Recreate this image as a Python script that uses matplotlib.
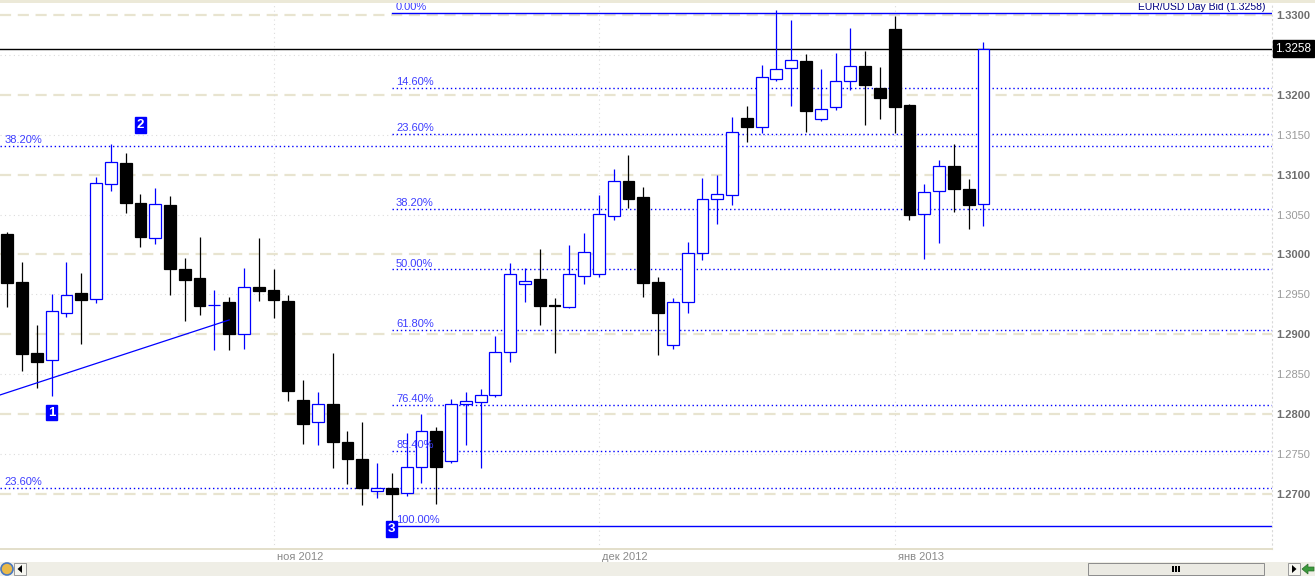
import numpy as np
import matplotlib
matplotlib.use('Agg')
import matplotlib.pyplot as plt
import matplotlib.transforms as mtransforms
from matplotlib.patches import Rectangle, Polygon, Ellipse

plt.rcParams['font.family'] = ['Liberation Sans', 'DejaVu Sans']

# EUR/USD daily bid candles, 8 Oct 2012 .. 10 Jan 2013 (one per trading day)
opens = [1.3026, 1.2966, 1.2877, 1.2868, 1.2927, 1.2952, 1.2944, 1.3088, 1.3115, 1.3065,
         1.3021, 1.3062, 1.2982, 1.2971, 1.2937, 1.2941, 1.2900, 1.2959, 1.2956, 1.2942,
         1.2818, 1.2790, 1.2813, 1.2765, 1.2744, 1.2704, 1.2708, 1.2701, 1.2734, 1.2779,
         1.2741, 1.2813, 1.2815, 1.2824, 1.2878, 1.2963, 1.2969, 1.2937, 1.2934, 1.2973,
         1.2976, 1.3048, 1.3092, 1.3072, 1.2966, 1.2887, 1.2941, 1.3002, 1.3070, 1.3075,
         1.3171, 1.3160, 1.3220, 1.3234, 1.3242, 1.3170, 1.3185, 1.3217, 1.3236, 1.3209,
         1.3282, 1.3187, 1.3051, 1.3080, 1.3111, 1.3082, 1.3063]
highs = [1.3028, 1.2991, 1.2912, 1.2951, 1.2991, 1.2977, 1.3097, 1.3138, 1.3127, 1.3076,
         1.3083, 1.3073, 1.2996, 1.3022, 1.2956, 1.2947, 1.2983, 1.3021, 1.2982, 1.2949,
         1.2843, 1.2828, 1.2877, 1.2779, 1.2790, 1.2739, 1.2726, 1.2776, 1.2800, 1.2784,
         1.2819, 1.2828, 1.2832, 1.2898, 1.2989, 1.2983, 1.3007, 1.2946, 1.3012, 1.3027,
         1.3075, 1.3107, 1.3125, 1.3085, 1.2972, 1.2946, 1.3016, 1.3096, 1.3100, 1.3172,
         1.3186, 1.3237, 1.3306, 1.3294, 1.3251, 1.3232, 1.3252, 1.3284, 1.3255, 1.3235,
         1.3299, 1.3189, 1.3088, 1.3118, 1.3138, 1.3095, 1.3266]
lows = [1.2934, 1.2854, 1.2833, 1.2823, 1.2922, 1.2888, 1.2939, 1.3080, 1.3052, 1.3009,
        1.3013, 1.2949, 1.2917, 1.2924, 1.2880, 1.2880, 1.2882, 1.2942, 1.2920, 1.2817,
        1.2763, 1.2761, 1.2733, 1.2712, 1.2686, 1.2695, 1.2660, 1.2697, 1.2714, 1.2687,
        1.2739, 1.2761, 1.2733, 1.2822, 1.2865, 1.2941, 1.2912, 1.2877, 1.2933, 1.2963,
        1.2972, 1.3043, 1.3058, 1.2947, 1.2874, 1.2882, 1.2927, 1.2993, 1.3038, 1.3062,
        1.3141, 1.3152, 1.3217, 1.3186, 1.3153, 1.3167, 1.3181, 1.3206, 1.3162, 1.3170,
        1.3152, 1.3043, 1.2994, 1.3014, 1.3053, 1.3032, 1.3036]
closes = [1.2964, 1.2875, 1.2865, 1.2929, 1.2949, 1.2943, 1.3090, 1.3116, 1.3065, 1.3022,
          1.3063, 1.2982, 1.2968, 1.2935, 1.2937, 1.2900, 1.2959, 1.2954, 1.2943, 1.2829,
          1.2788, 1.2813, 1.2765, 1.2744, 1.2708, 1.2708, 1.2700, 1.2734, 1.2779, 1.2734,
          1.2813, 1.2817, 1.2824, 1.2878, 1.2976, 1.2967, 1.2935, 1.2935, 1.2976, 1.3003,
          1.3051, 1.3092, 1.3070, 1.2964, 1.2927, 1.2941, 1.3002, 1.3070, 1.3076, 1.3153,
          1.3160, 1.3222, 1.3232, 1.3244, 1.3180, 1.3182, 1.3217, 1.3236, 1.3212, 1.3196,
          1.3185, 1.3049, 1.3078, 1.3111, 1.3082, 1.3062, 1.3258]

month_starts = [18, 40, 60]
month_labels = ['ноя 2012', 'дек 2012', 'янв 2013']

last_price = 1.3258
title = 'EUR/USD Day Bid (1.3258)'

# fibonacci retracement from point 3 (low) up to the december top
fib_high = 1.3303
fib_low = 1.2660
fib_start = 26
fib_levels = [0.0, 14.6, 23.6, 38.2, 50.0, 61.8, 76.4, 85.4, 100.0]

# older fibonacci study, only two of its levels fall inside the window
fib2_prices = [1.3136, 1.2708]
fib2_labels = ['38.20%', '23.60%']

trend_x = [-0.5, 15]
trend_y = [1.2824, 1.2918]

pivot_idx = [3, 9, 26]
pivot_price = [1.2802, 1.3162, 1.2656]
pivot_text = ['1', '2', '3']

BLUE = '#0000ff'
LBL = '#3d3dff'
W, H = 1315, 576

fig = plt.figure(figsize=(W / 100, H / 100), dpi=100)
fig.patch.set_facecolor('white')
ax = fig.add_axes([0, 27 / H, 1272 / W, 546 / H])
ax.set_xlim(-0.494, 85.51)
ax.set_ylim(1.26311, 1.33150)

# grid
for p in np.arange(1.27, 1.3301, 0.01):
    ax.axhline(p, color='#e8e4d0', lw=1.6, ls=(0, (5, 3)), zorder=1)
for p in np.arange(1.275, 1.3301, 0.01):
    ax.axhline(p, color='#dcdcdc', lw=0.8, ls=(0, (1, 3)), zorder=1)
for m in month_starts:
    ax.axvline(m, color='#dcdcdc', lw=0.8, ls=(0, (1, 3)), zorder=1)

for s in ['left', 'top']:
    ax.spines[s].set_visible(False)
ax.spines['bottom'].set_color('#e3dfca')
ax.spines['bottom'].set_linewidth(1.4)
ax.spines['right'].set_color('#d8d8d8')
ax.spines['right'].set_linestyle((0, (1, 3)))

# fib levels
xlo, xhi = ax.get_xlim()
fstart = (fib_start - xlo) / (xhi - xlo)
rng = fib_high - fib_low
for lv in fib_levels:
    price = fib_high - lv / 100 * rng
    if lv in (0.0, 100.0):
        ax.axhline(price, xmin=fstart, color=BLUE, lw=1.0, zorder=2)
    else:
        ax.axhline(price, xmin=fstart, color=BLUE, lw=1.0, ls=(0, (1, 2)), zorder=2)
    ax.annotate('%.2f%%' % lv, xy=(fib_start, price), xytext=(3, 0.5),
                textcoords='offset points', va='bottom', ha='left',
                color=LBL, fontsize=8, zorder=6)

for p, lab in zip(fib2_prices, fib2_labels):
    ax.axhline(p, color=BLUE, lw=1.0, ls=(0, (1, 2)), zorder=2)
    ax.annotate(lab, xy=(0, p), xycoords=('axes fraction', 'data'), xytext=(3, 0.5),
                textcoords='offset points', va='bottom', ha='left',
                color=LBL, fontsize=8, zorder=6)

# last price line
ax.axhline(last_price, color='black', lw=1.0, zorder=2)

# candles
o = np.array(opens)
h = np.array(highs)
l = np.array(lows)
c = np.array(closes)
x = np.arange(len(o))
up = c >= o
ax.vlines(x[up], l[up], h[up], colors=BLUE, lw=0.9, zorder=3)
ax.vlines(x[~up], l[~up], h[~up], colors='black', lw=0.9, zorder=3)
body_lo = np.minimum(o, c)
body_h = np.maximum(np.abs(c - o), 0.00003)
ax.bar(x[up], body_h[up], 0.8, bottom=body_lo[up], facecolor='white',
       edgecolor=BLUE, lw=0.9, zorder=4)
ax.bar(x[~up], body_h[~up], 0.8, bottom=body_lo[~up], facecolor='black',
       edgecolor='black', lw=0.9, zorder=4)

# trend line
ax.plot(trend_x, trend_y, color=BLUE, lw=0.9, zorder=5)

# pivot markers
for i, p, t in zip(pivot_idx, pivot_price, pivot_text):
    ax.text(i, p, t, ha='center', va='center', color='white', fontsize=9.5,
            fontweight='bold', zorder=7,
            bbox=dict(boxstyle='square,pad=0.14', fc=BLUE, ec=BLUE))

# price axis on the right (1.3250 sits under the last-price box)
ax.yaxis.tick_right()
ticks = np.arange(1.27, 1.3301, 0.005)
ax.set_yticks(ticks)
ax.set_yticklabels(['' if abs(t - 1.325) < 1e-6 else '%.4f' % t for t in ticks])
ax.tick_params(axis='y', length=0, pad=3, labelsize=8)
for t, lab in zip(ticks, ax.get_yticklabels()):
    if abs(round(t * 100) - t * 100) < 1e-6:
        lab.set_color('#6e6e6e')
        lab.set_fontweight('bold')
    else:
        lab.set_color('#9a9a9a')
ax.set_xticks([])

bl = mtransforms.blended_transform_factory(ax.transAxes, ax.transData)
ax.annotate('1.3258', xy=(1.0, last_price), xycoords=bl, xytext=(2.5, 0),
            textcoords='offset points', ha='left', va='center',
            color='white', fontsize=8.5, zorder=8, annotation_clip=False,
            bbox=dict(boxstyle='square,pad=0.25', fc='black', ec='black'))

ax.text(1 - 7 / 1272, 1 - 4 / 546, title, transform=ax.transAxes, ha='right',
        va='center', color='#000080', fontsize=7.5, zorder=8)

for m, lab in zip(month_starts, month_labels):
    ax.annotate(lab, xy=(m, 0), xycoords=('data', 'axes fraction'),
                xytext=(2.2, -6), textcoords='offset points', ha='left', va='center',
                color='#8a8a8a', fontsize=8, annotation_clip=False)


# window chrome (pixel coordinates from the top left)
def px_rect(x0, y0, x1, y1, **kw):
    fig.add_artist(Rectangle((x0 / W, 1 - y1 / H), (x1 - x0) / W, (y1 - y0) / H,
                             transform=fig.transFigure, **kw))


def px_poly(pts, **kw):
    fig.add_artist(Polygon([(a / W, 1 - b / H) for a, b in pts],
                           transform=fig.transFigure, **kw))


px_rect(0, 0, W, 3, fc='#ece9d8', ec='none')
px_rect(0, 562, W, H, fc='#efeee6', ec='none')
fig.add_artist(Ellipse((7 / W, 1 - 569 / H), 12 / W, 12 / H, transform=fig.transFigure,
                       fc='#e9b949', ec='#4a78c0', lw=1.2))
px_rect(14, 563, 26, 575, fc='#f6f6f0', ec='#9a9a9a', lw=0.7)
px_poly([(17.5, 569), (22, 565), (22, 573)], fc='black', ec='none')
px_rect(1088, 563, 1264, 575, fc='#ebeae3', ec='#8c8c8c', lw=0.7)
for xb in (1173, 1176, 1179):
    px_rect(xb - 0.7, 566, xb + 0.7, 572, fc='black', ec='none')
px_rect(1288, 563, 1300, 575, fc='#f6f6f0', ec='#9a9a9a', lw=0.7)
px_poly([(1292, 565), (1292, 573), (1296.5, 569)], fc='black', ec='none')
px_poly([(1302, 569), (1308, 564), (1308, 567), (1314, 567), (1314, 571),
         (1308, 571), (1308, 574)], fc='#3c9a3c', ec='#2a6e2a', lw=0.5)

fig.savefig('out.png', dpi=100)
